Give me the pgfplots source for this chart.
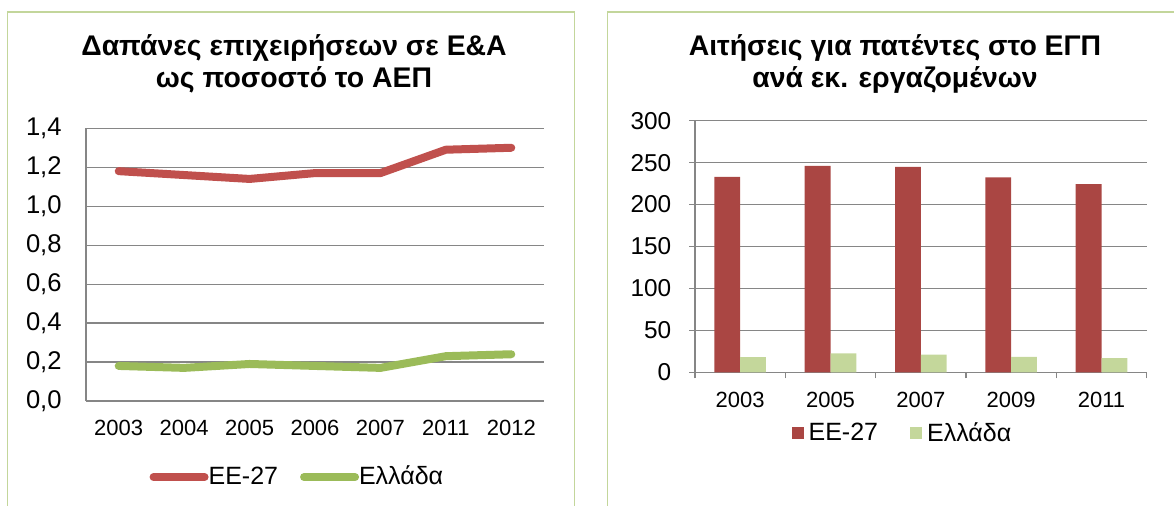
\documentclass[border=0pt]{standalone}
\usepackage{fontspec}
\setmainfont{Liberation Sans}
\usepackage{pgfplots}
\pgfplotsset{compat=1.18}
\definecolor{eured}{RGB}{192,80,77}
\definecolor{grgreen}{RGB}{155,187,89}
\definecolor{barred}{RGB}{170,70,67}
\definecolor{bargreen}{RGB}{196,215,155}
\definecolor{gridgray}{RGB}{134,134,134}
\definecolor{framegreen}{RGB}{195,214,155}
\begin{document}
\begin{tikzpicture}
\path[use as bounding box] (0pt,0pt) rectangle (587pt,-253pt);
\begin{scope}
\clip (0pt,0pt) rectangle (587pt,-253pt);
\draw[framegreen, line width=0.8pt] (3.75pt,-6pt) rectangle (287.25pt,-270pt);
\draw[framegreen, line width=0.8pt] (303.75pt,-270pt) -- (303.75pt,-6pt) -- (600pt,-6pt);
\end{scope}
\node[align=center, inner sep=0pt, font=\bfseries\fontsize{14.2}{16.25}\selectfont] at (147pt,-31.9pt) {Δαπάνες επιχειρήσεων σε Ε\&Α\\ως ποσοστό το ΑΕΠ};
\node[align=center, inner sep=0pt, font=\bfseries\fontsize{14.2}{16.25}\selectfont] at (447.5pt,-31.9pt) {Αιτήσεις για πατέντες στο ΕΓΠ\\ανά εκ. εργαζομένων};

\begin{axis}[
  at={(43pt,-200.5pt)}, anchor=south west,
  scale only axis, width=229pt, height=136.35pt,
  xmin=-0.5, xmax=6.5, ymin=0, ymax=1.4,
  xtick={0,1,2,3,4,5,6},
  xticklabels={2003,2004,2005,2006,2007,2011,2012},
  ytick={0,0.2,0.4,0.6,0.8,1.0,1.2,1.4},
  axis lines=left, axis line style={-, gridgray, line width=0.6pt},
  ymajorgrids, grid style={gridgray, line width=0.6pt},
  major tick length=0pt,
  yticklabel style={font=\fontsize{12.8}{14}\selectfont, anchor=east, inner sep=0pt, xshift=-12pt,
    /pgf/number format/fixed, /pgf/number format/fixed zerofill,
    /pgf/number format/precision=1, /pgf/number format/use comma,
    /pgf/number format/assume math mode=true},
  xticklabel style={font=\fontsize{11}{12}\selectfont, anchor=north, inner sep=0pt, yshift=-9.5pt},
  legend columns=2,
  legend style={at={(0.455,-0.279)}, anchor=center, draw=none, fill=none,
    font=\fontsize{12.5}{14}\selectfont, inner sep=0pt, nodes={inner sep=0pt},
    /tikz/every even column/.append style={column sep=9pt}},
  legend image code/.code={\draw[#1, line width=4pt, line cap=round] (2pt,0pt) -- (27.5pt,0pt); \path (0pt,0pt) (27.5pt,0pt);},
  clip=false,
]
\addplot[eured, line width=4pt, line cap=round, line join=round, mark=none]
  coordinates {(0,1.18) (1,1.16) (2,1.14) (3,1.17) (4,1.17) (5,1.29) (6,1.30)};
\addlegendentry{ΕΕ-27}
\addplot[grgreen, line width=4pt, line cap=round, line join=round, mark=none]
  coordinates {(0,0.18) (1,0.17) (2,0.19) (3,0.18) (4,0.17) (5,0.23) (6,0.24)};
\addlegendentry{Ελλάδα}
\end{axis}

\begin{axis}[
  at={(347.5pt,-186.15pt)}, anchor=south west,
  scale only axis, width=225.85pt, height=125.8pt,
  ybar=0pt, bar width=12.9pt,
  xmin=-0.5, xmax=4.5, ymin=0, ymax=300,
  ytick={0,50,100,150,200,250,300},
  xtick={-0.5,0.5,1.5,2.5,3.5,4.5},
  x tick label as interval,
  xticklabels={2003,2005,2007,2009,2011},
  axis lines=left, axis line style={-, gridgray, line width=0.6pt},
  ymajorgrids, grid style={gridgray, line width=0.6pt},
  tick align=outside, major tick length=3pt,
  tick style={gridgray, line width=0.6pt},
  yticklabel style={font=\fontsize{12.2}{13}\selectfont, anchor=east, inner sep=0pt, xshift=-8.65pt,
    /pgf/number format/assume math mode=true},
  xticklabel style={font=\fontsize{11}{12}\selectfont, anchor=north, inner sep=0pt, yshift=-6.7pt},
  legend columns=2,
  legend style={at={(0.457,-0.243)}, anchor=center, draw=none, fill=none,
    font=\fontsize{12.5}{14}\selectfont, inner sep=0pt, nodes={inner sep=0pt},
    /tikz/every even column/.append style={column sep=16pt}},
  legend image code/.code={\fill[#1] (0pt,-3pt) rectangle (6pt,3pt); \path (0pt,0pt) (8.5pt,0pt);},
]
\addplot[fill=barred, draw=none]
  coordinates {(0,233) (1,246) (2,245) (3,232.5) (4,224.5)};
\addlegendentry{ΕΕ-27}
\addplot[fill=bargreen, draw=none]
  coordinates {(0,18) (1,22.5) (2,21) (3,18.5) (4,17)};
\addlegendentry{Ελλάδα}
\end{axis}
\end{tikzpicture}
\end{document}
